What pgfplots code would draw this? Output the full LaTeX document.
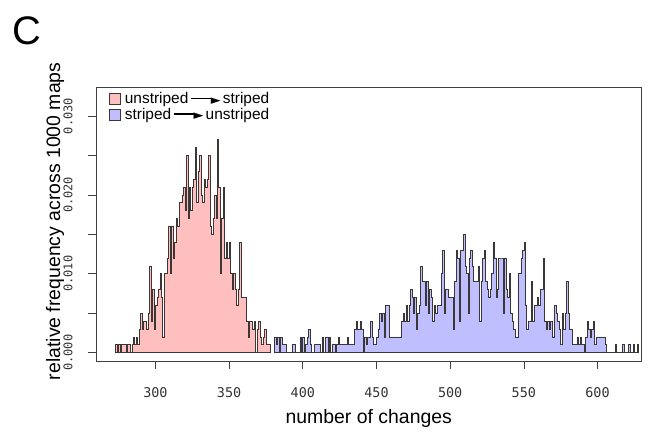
\documentclass[border=0pt]{standalone}
\usepackage{pgfplots}
\pgfplotsset{compat=1.18}
\usepackage{fontspec}
\setmainfont{Liberation Sans}
\newfontfamily\tickfont{DejaVu Sans Mono}
\newfontfamily\dejavu{DejaVu Sans}
\definecolor{redfill}{RGB}{255,191,191}
\definecolor{bluefill}{RGB}{191,191,255}
\definecolor{edge}{RGB}{60,55,55}
\newcommand{\arr}{\kern2.5bp\rule[0.3em]{21bp}{1.5bp}\kern-1bp\raisebox{-0.02em}{\dejavu\fontsize{13}{13}\selectfont ►}\kern2bp}
\begin{document}
\begin{tikzpicture}
\useasboundingbox (-96.5bp,-77bp) rectangle (555.5bp,361bp);
\begin{axis}[
  scale only axis, width=544.5bp, height=274bp,
  xmin=260, xmax=629.5, ymin=-0.00106, ymax=0.03368,
  scaled y ticks=false, scaled x ticks=false,
  axis line style={black!75, line width=0.7bp},
  tick align=outside, major tick length=8bp,
  tick style={black!75, line width=0.7bp},
  xtick={300,350,400,450,500,550,600},
  xticklabels={300,350,400,450,500,550,600},
  ytick={0,0.005,0.01,0.015,0.02,0.025,0.03},
  yticklabels={0.000,,0.010,,0.020,,0.030},
  xtick pos=bottom, ytick pos=left,
  xticklabel style={font=\tickfont\fontsize{13.5}{13.5}\selectfont, text=black!80, anchor=center},
  xticklabel shift=24bp,
  yticklabel style={font=\tickfont\fontsize{12}{12}\selectfont, text=black!80, rotate=90, anchor=center},
  yticklabel shift=20.5bp,
  xlabel={number of changes},
  xlabel style={font=\fontsize{19.5}{19.5}\selectfont, at={(axis description cs:0.5,-0.208)}, anchor=center},
  ylabel={relative frequency across 1000 maps},
  ylabel style={font=\fontsize{19.5}{19.5}\selectfont, at={(axis description cs:-0.0762,0.51)}, anchor=center},
  legend image code/.code={\draw[#1, line width=0.7bp] (0bp,-5.5bp) rectangle (11bp,5.5bp);},
  legend style={at={(axis description cs:0,1)}, anchor=north west, xshift=9bp, yshift=-3bp,
    draw=none, fill=none, font=\fontsize{15.5}{15.5}\selectfont, row sep=2bp,
    nodes={inner sep=0.5bp}, column sep=4bp},
  legend cell align=left,
]
\addplot[const plot, fill=redfill, draw=edge, line width=0.7bp] coordinates {
(273,0.001)(274,0)(275,0.001)(276,0)(277,0.001)(278,0.001)(279,0.001)(280,0)(281,0.001)(282,0.001)
(283,0)(284,0.001)(285,0.002)(286,0.001)(287,0.002)(288,0.001)(289,0.003)(290,0.005)(291,0.003)(292,0.004)
(293,0.004)(294,0.003)(295,0.005)(296,0.011)(297,0.004)(298,0.008)(299,0.003)(300,0.006)(301,0.007)(302,0.008)
(303,0.010)(304,0.007)(305,0.002)(306,0.010)(307,0.010)(308,0.012)(309,0.016)(310,0.010)(311,0.016)(312,0.012)
(313,0.014)(314,0.017)(315,0.016)(316,0.019)(317,0.019)(318,0.020)(319,0.021)(320,0.018)(321,0.025)(322,0.017)
(323,0.021)(324,0.018)(325,0.021)(326,0.022)(327,0.026)(328,0.019)(329,0.023)(330,0.025)(331,0.020)(332,0.019)
(333,0.022)(334,0.021)(335,0.022)(336,0.025)(337,0.016)(338,0.015)(339,0.017)(340,0.020)(341,0.017)(342,0.027)
(343,0.021)(344,0.010)(345,0.017)(346,0.021)(347,0.012)(348,0.014)(349,0.012)(350,0.014)(351,0.010)(352,0.008)
(353,0.010)(354,0.008)(355,0.006)(356,0.008)(357,0.014)(358,0.007)(359,0.007)(360,0.007)(361,0.007)(362,0.004)
(363,0.002)(364,0.004)(365,0.004)(366,0.003)(367,0.004)(368,0)(369,0.003)(370,0.004)(371,0.002)(372,0.001)
(373,0.002)(374,0.003)(375,0.001)(376,0.001)(377,0.001)(378,0)
} \closedcycle;
\addlegendentry{unstriped\arr striped}
\addplot[const plot, fill=bluefill, draw=edge, line width=0.7bp] coordinates {
(381,0.002)(382,0.001)(383,0.002)(384,0)(385,0.002)(386,0.001)(387,0.001)(388,0.001)(389,0)(390,0)
(391,0)(392,0)(393,0.001)(394,0.001)(395,0)(396,0)(397,0)(398,0.002)(399,0)(400,0.002)
(401,0)(402,0.001)(403,0.002)(404,0.003)(405,0.001)(406,0)(407,0)(408,0.001)(409,0.001)(410,0.001)
(411,0.001)(412,0)(413,0.002)(414,0)(415,0.002)(416,0.002)(417,0)(418,0.002)(419,0)(420,0.001)
(421,0.001)(422,0)(423,0.001)(424,0.002)(425,0.001)(426,0.001)(427,0.001)(428,0.001)(429,0.001)(430,0.002)
(431,0.001)(432,0.001)(433,0.001)(434,0.001)(435,0.003)(436,0.004)(437,0.003)(438,0.003)(439,0.004)(440,0.003)
(441,0)(442,0.002)(443,0.001)(444,0.002)(445,0.002)(446,0.004)(447,0.002)(448,0.001)(449,0.001)(450,0.002)
(451,0.003)(452,0.005)(453,0.004)(454,0.005)(455,0.002)(456,0.006)(457,0.006)(458,0.006)(459,0.002)(460,0.002)
(461,0.002)(462,0.002)(463,0.002)(464,0.002)(465,0.002)(466,0.002)(467,0.004)(468,0.005)(469,0.004)(470,0.006)
(471,0.004)(472,0.006)(473,0.008)(474,0.007)(475,0.005)(476,0.007)(477,0.003)(478,0.005)(479,0.006)(480,0.011)
(481,0.009)(482,0.009)(483,0.006)(484,0.009)(485,0.005)(486,0.008)(487,0.007)(488,0.004)(489,0.006)(490,0.005)
(491,0.006)(492,0.006)(493,0.006)(494,0.010)(495,0.013)(496,0.005)(497,0.008)(498,0.008)(499,0.007)(500,0.007)
(501,0.007)(502,0.003)(503,0.009)(504,0.013)(505,0.012)(506,0.004)(507,0.013)(508,0.013)(509,0.015)(510,0.011)
(511,0.010)(512,0.005)(513,0.012)(514,0.013)(515,0.011)(516,0.009)(517,0.009)(518,0.009)(519,0.011)(520,0.004)
(521,0.009)(522,0.012)(523,0.013)(524,0.009)(525,0.008)(526,0.007)(527,0.008)(528,0.010)(529,0.014)(530,0.012)
(531,0.007)(532,0.008)(533,0.012)(534,0.012)(535,0.012)(536,0.005)(537,0.012)(538,0.008)(539,0.007)(540,0.010)
(541,0.005)(542,0.004)(543,0.003)(544,0.002)(545,0.002)(546,0.010)(547,0.010)(548,0.012)(549,0.013)(550,0.014)
(551,0.006)(552,0.003)(553,0.004)(554,0.004)(555,0.009)(556,0.004)(557,0.006)(558,0.006)(559,0.007)(560,0.006)
(561,0.008)(562,0.008)(563,0.012)(564,0.004)(565,0.003)(566,0.004)(567,0.003)(568,0.004)(569,0.002)(570,0.002)
(571,0.006)(572,0.005)(573,0.004)(574,0.003)(575,0.001)(576,0.005)(577,0.003)(578,0.005)(579,0.009)(580,0.005)
(581,0.003)(582,0.003)(583,0.001)(584,0.001)(585,0.001)(586,0.002)(587,0.001)(588,0.002)(589,0.001)(590,0.001)
(591,0)(592,0.002)(593,0.004)(594,0.003)(595,0.002)(596,0.003)(597,0.004)(598,0.001)(599,0.002)(600,0.002)
(601,0.002)(602,0.002)(603,0.002)(604,0.002)(605,0.001)(606,0)(607,0)(608,0)(609,0)(610,0)
(611,0)(612,0.001)(613,0)(614,0)(615,0)(616,0)(617,0.001)(618,0)(619,0)(620,0)
(621,0.001)(622,0)(623,0)(624,0.001)(625,0)(626,0)(627,0.001)(628,0)
} \closedcycle;
\addlegendentry{striped\arr unstriped}
\end{axis}
\node[font=\fontsize{40}{40}\selectfont, anchor=center] at (-70bp,330bp) {C};
\end{tikzpicture}
\end{document}
